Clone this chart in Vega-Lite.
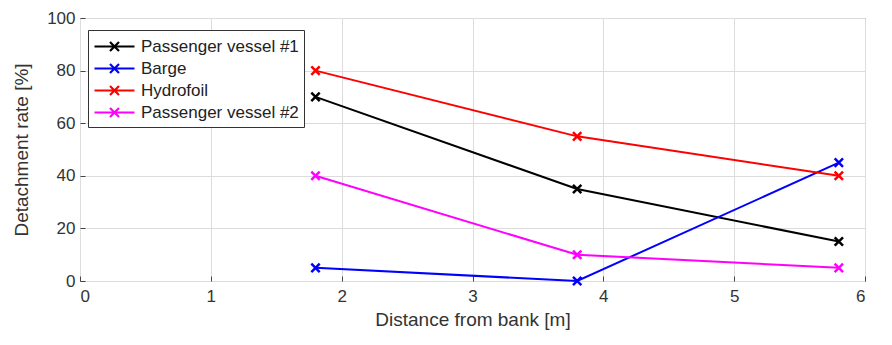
{
  "$schema": "https://vega.github.io/schema/vega-lite/v6.json",
  "width": 785,
  "height": 263,
  "autosize": {"type": "none"},
  "padding": {"left": 80, "top": 18, "right": 27, "bottom": 64},
  "background": "white",
  "config": {
    "font": "Liberation Sans",
    "view": {"stroke": "#555555", "strokeWidth": 1}
  },
  "data": {
    "values": [
      {"vessel": "Passenger vessel #1", "x": 1.8, "y": 70},
      {"vessel": "Passenger vessel #1", "x": 3.8, "y": 35},
      {"vessel": "Passenger vessel #1", "x": 5.8, "y": 15},
      {"vessel": "Barge", "x": 1.8, "y": 5},
      {"vessel": "Barge", "x": 3.8, "y": 0},
      {"vessel": "Barge", "x": 5.8, "y": 45},
      {"vessel": "Hydrofoil", "x": 1.8, "y": 80},
      {"vessel": "Hydrofoil", "x": 3.8, "y": 55},
      {"vessel": "Hydrofoil", "x": 5.8, "y": 40},
      {"vessel": "Passenger vessel #2", "x": 1.8, "y": 40},
      {"vessel": "Passenger vessel #2", "x": 3.8, "y": 10},
      {"vessel": "Passenger vessel #2", "x": 5.8, "y": 5}
    ]
  },
  "encoding": {
    "x": {
      "field": "x", "type": "quantitative",
      "scale": {"domain": [0, 6], "nice": false},
      "axis": {
        "title": "Distance from bank [m]", "values": [0,1,2,3,4,5,6],
        "grid": true, "gridColor": "#dcdcdc", "domain": false,
        "tickSize": -5, "tickColor": "#444", "labelFontSize": 17, "labelColor": "#333",
        "labelPadding": 12, "titleFontSize": 19, "titleFontWeight": "normal", "titleColor": "#333",
        "titlePadding": 6
      }
    },
    "y": {
      "field": "y", "type": "quantitative",
      "scale": {"domain": [0, 100], "nice": false},
      "axis": {
        "title": "Detachment rate [%]", "values": [0,20,40,60,80,100],
        "grid": true, "gridColor": "#dcdcdc", "domain": false,
        "tickSize": -5, "tickColor": "#444", "labelFontSize": 17, "labelColor": "#333",
        "labelPadding": 10, "titleFontSize": 19, "titleFontWeight": "normal", "titleColor": "#333",
        "titlePadding": 15
      }
    },
    "color": {
      "field": "vessel", "type": "nominal",
      "sort": ["Passenger vessel #1", "Barge", "Hydrofoil", "Passenger vessel #2"],
      "scale": {
        "domain": ["Passenger vessel #1", "Barge", "Hydrofoil", "Passenger vessel #2"],
        "range": ["#000000", "#0000ff", "#ff0000", "#ff00ff"]
      },
      "legend": {
        "title": null, "orient": "none", "legendX": 8, "legendY": 12,
        "labelFontSize": 17, "labelColor": "#222", "symbolSize": 400,
        "symbolType": "M-1,0L3,0M0.55,-0.45L1.45,0.45M0.55,0.45L1.45,-0.45",
        "symbolStrokeWidth": 2.2, "symbolFillColor": "transparent",
        "rowPadding": 1, "padding": 5, "strokeColor": "#333", "fillColor": "white",
        "labelOffset": 25
      }
    }
  },
  "layer": [
    {"mark": {"type": "line", "strokeWidth": 2}},
    {"mark": {"type": "point", "shape": "M-1,-1L1,1M-1,1L1,-1", "filled": false, "size": 70, "strokeWidth": 2.5, "opacity": 1}}
  ]
}
